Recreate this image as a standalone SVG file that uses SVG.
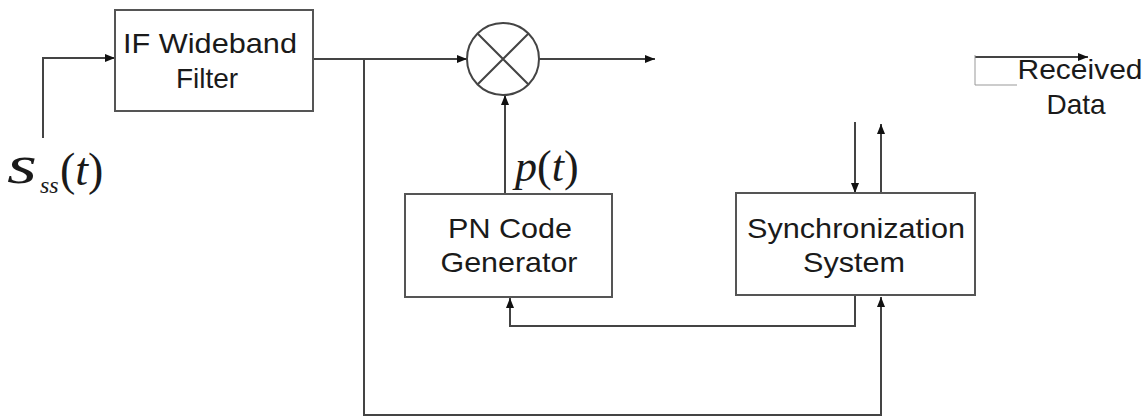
<svg xmlns="http://www.w3.org/2000/svg" width="1147" height="419" viewBox="0 0 1147 419">
<style>
.box{fill:#fff;stroke:#555;stroke-width:2}
.ln{fill:none;stroke:#444;stroke-width:2}
.lbl{font-family:"Liberation Sans",Arial,sans-serif;font-size:28px;fill:#1a1a1a;text-anchor:middle}
.math{font-family:"Liberation Serif","Times New Roman",serif;font-style:italic;fill:#1a1a1a}
.mathr{font-family:"Liberation Serif","Times New Roman",serif;fill:#1a1a1a}
</style>
<defs>
<marker id="arr" viewBox="0 0 10 8" refX="10" refY="4" markerWidth="10" markerHeight="8" markerUnits="userSpaceOnUse" orient="auto">
<path d="M0,0 L10,4 L0,8 Z" fill="#111"/>
</marker>
</defs>
<rect width="1147" height="419" fill="#fff"/>
<g id="connectors">
<path class="ln" d="M43,138 V58 H115" marker-end="url(#arr)"/>
<path class="ln" d="M313,59 H467" marker-end="url(#arr)"/>
<path class="ln" d="M364,59 V415 H881 V297" marker-end="url(#arr)"/>
<path class="ln" d="M539,59 H655" marker-end="url(#arr)"/>
<path class="ln" d="M505,194 V95" marker-end="url(#arr)"/>
<path class="ln" d="M855,295 V326 H510 V298" marker-end="url(#arr)"/>
<path class="ln" d="M855,122 V193" marker-end="url(#arr)"/>
<path class="ln" d="M881,193 V124" marker-end="url(#arr)"/>
<path class="ln" d="M975,57 H1088" marker-end="url(#arr)"/>
<path d="M975,55 V85 H1017" fill="none" stroke="#999" stroke-width="1"/>
</g>
<g id="filter">
<rect class="box" x="115" y="10" width="198" height="101"/>
<text class="lbl" x="210" y="53" textLength="174" lengthAdjust="spacingAndGlyphs">IF Wideband</text>
<text class="lbl" x="207" y="88">Filter</text>
</g>
<g id="mixer">
<circle cx="503" cy="59" r="36" fill="#fff" stroke="#444" stroke-width="2"/>
<path d="M477.5,33.5 L528.5,84.5 M528.5,33.5 L477.5,84.5" stroke="#444" stroke-width="2"/>
</g>
<g id="pn">
<rect class="box" x="405" y="194" width="207" height="103"/>
<text class="lbl" x="510" y="238" textLength="124" lengthAdjust="spacingAndGlyphs">PN Code</text>
<text class="lbl" x="509" y="272" textLength="137" lengthAdjust="spacingAndGlyphs">Generator</text>
</g>
<g id="sync">
<rect class="box" x="736" y="193" width="239" height="102"/>
<text class="lbl" x="856" y="238" textLength="218" lengthAdjust="spacingAndGlyphs">Synchronization</text>
<text class="lbl" x="854" y="272" textLength="102" lengthAdjust="spacingAndGlyphs">System</text>
</g>
<g id="received">
<text class="lbl" x="1080" y="79" textLength="125" lengthAdjust="spacingAndGlyphs">Received</text>
<text class="lbl" x="1076" y="114">Data</text>
</g>
<g id="label-pt">
<text x="515" y="181" font-size="44"><tspan class="math">p</tspan><tspan class="mathr">(</tspan><tspan class="math">t</tspan><tspan class="mathr">)</tspan></text>
</g>
<g id="label-sss">
<text x="7" y="183" class="math" font-size="54" textLength="30" lengthAdjust="spacingAndGlyphs">s</text>
<text x="40" y="193" class="math" font-size="24">ss</text>
<text x="60" y="185" font-size="46"><tspan class="mathr">(</tspan><tspan class="math">t</tspan><tspan class="mathr">)</tspan></text>
</g>
</svg>
